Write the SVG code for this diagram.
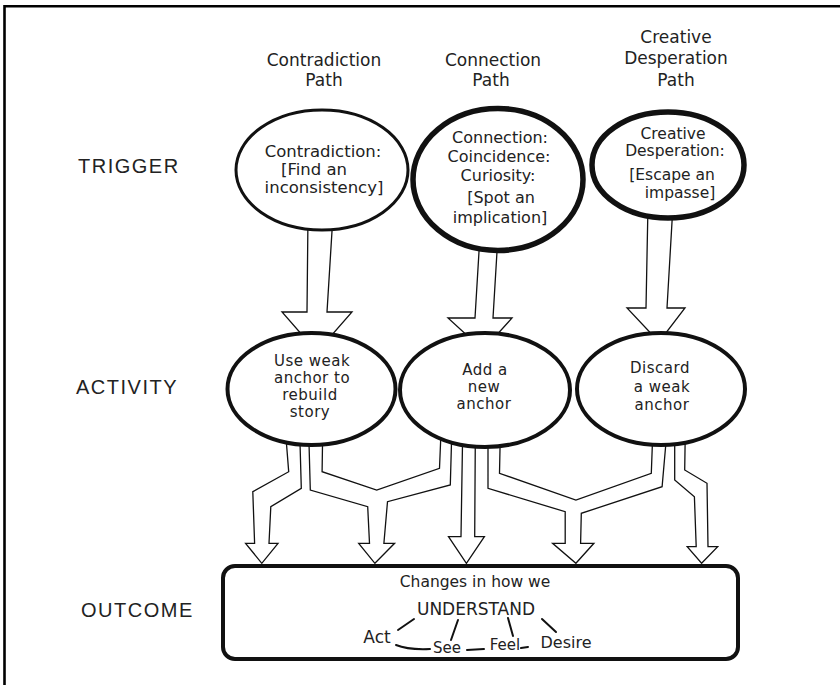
<svg xmlns="http://www.w3.org/2000/svg" width="840" height="685" viewBox="0 0 840 685">
<style>
.hand{font-family:"DejaVu Sans","Liberation Sans",sans-serif;fill:#222;text-anchor:middle}
.h17{font-size:17px}
.h16{font-size:16px}
.h15{font-size:15px}
.act{font-size:15px;letter-spacing:0.5px}
.lbl{font-family:"Liberation Sans",Arial,sans-serif;font-size:20px;fill:#222;letter-spacing:1.5px}
.arrow{fill:#fff;stroke:#111;stroke-width:1.3;stroke-linejoin:miter}
.node{fill:#fff;stroke:#111}
.thin{stroke-width:3}
.mid{stroke-width:4}
.thick{stroke-width:5.5}
.link{fill:none;stroke:#111;stroke-width:2;stroke-linecap:round}
</style>
<rect width="840" height="685" fill="#fff"/>
<g id="frame"><path d="M4.5,685 V6.2 H840" fill="none" stroke="#000" stroke-width="2.6"/></g>

<g id="row-labels">
<text class="lbl" x="78" y="173">TRIGGER</text>
<text class="lbl" x="76" y="394">ACTIVITY</text>
<text class="lbl" x="81" y="617">OUTCOME</text>
</g>

<g id="headers">
<text class="hand h17" x="324" y="66">Contradiction</text>
<text class="hand h17" x="324" y="86">Path</text>
<text class="hand h17" x="493" y="66">Connection</text>
<text class="hand h17" x="491" y="86">Path</text>
<text class="hand h17" x="676" y="43">Creative</text>
<text class="hand h17" x="676" y="64">Desperation</text>
<text class="hand h17" x="676" y="86">Path</text>
</g>

<g id="connectors">
<polygon class="arrow" points="308,215 307,312 282,312 317,352 352,312 327,312 333,215"/>
<polygon class="arrow" points="480,235 475,318 448,318 483,350 512,318 493,318 498,235"/>
<polygon class="arrow" points="648,205 646,308 627,308 659,342 685,308 667,308 673,205"/>
<polygon class="arrow" points="285,425 288.7,471.7 252.8,491.7 254.6,543.3 245.6,543.3 261.8,563.3 278,543.3 269,543.3 270.8,506.7 301.3,488.3 299.5,425"/>
<polygon class="arrow" points="308.5,425 310.3,490 367.7,506.7 369.5,543.3 358.7,543.3 374.9,563.3 394.6,543.3 383.9,543.3 387.5,501.7 450.3,485 452,425 441.3,425 439.5,468.3 376.7,490 322.1,471.7 322.8,425"/>
<polygon class="arrow" points="462.8,425 461,536.7 448.5,536.7 466.4,563.3 484.4,536.7 474.7,536.7 475.4,425"/>
<polygon class="arrow" points="488,425 488,488.3 565.2,511.7 565.2,543.3 552.6,543.3 575.9,563.3 593.9,543.3 580.6,543.3 581.3,513.3 662.1,486.7 667.5,425 653.1,425 651.3,473.3 575.9,500 499.5,473.3 500.5,425"/>
<polygon class="arrow" points="674.7,425 674.7,480 694.4,496.7 696.2,546.7 687.2,546.7 701.6,563.3 717.7,546.7 708,546.7 707,483.3 684.7,470 685.4,425"/>
</g>

<g id="trigger-contradiction">
<ellipse class="node thin" cx="322" cy="170" rx="86" ry="60"/>
<text class="hand" style="font-size:16.5px" x="323" y="157">Contradiction:</text>
<text class="hand" style="font-size:16.5px" x="314" y="175">[Find an</text>
<text class="hand" style="font-size:16.5px" x="324" y="193">inconsistency]</text>
</g>

<g id="trigger-connection">
<ellipse class="node thick" cx="498" cy="179.5" rx="85" ry="71"/>
<text class="hand h16" x="500" y="143">Connection:</text>
<text class="hand h16" x="499" y="162">Coincidence:</text>
<text class="hand h16" x="498" y="181">Curiosity:</text>
<text class="hand h16" x="501" y="203">[Spot an</text>
<text class="hand h16" x="500" y="223">implication]</text>
</g>

<g id="trigger-desperation">
<ellipse class="node thick" cx="668" cy="165" rx="76" ry="53"/>
<text class="hand" style="font-size:15.5px" x="673" y="139">Creative</text>
<text class="hand" style="font-size:15.5px" x="675" y="156">Desperation:</text>
<text class="hand" style="font-size:15.5px" x="672" y="180">[Escape an</text>
<text class="hand" style="font-size:15.5px" x="680" y="198">impasse]</text>
</g>

<g id="activity-rebuild">
<ellipse class="node mid" cx="311.5" cy="389" rx="84" ry="56"/>
<text class="hand act" x="312" y="366">Use weak</text>
<text class="hand act" x="312" y="383">anchor to</text>
<text class="hand act" x="310" y="400">rebuild</text>
<text class="hand act" x="310" y="417">story</text>
</g>

<g id="activity-add">
<ellipse class="node mid" cx="485" cy="390" rx="85" ry="57"/>
<text class="hand act" x="485" y="375">Add a</text>
<text class="hand act" x="484" y="392">new</text>
<text class="hand act" x="484" y="409">anchor</text>
</g>

<g id="activity-discard">
<ellipse class="node mid" cx="661" cy="389" rx="84" ry="56"/>
<text class="hand act" x="660" y="373">Discard</text>
<text class="hand act" x="662" y="392">a weak</text>
<text class="hand act" x="662" y="410">anchor</text>
</g>

<g id="outcome">
<rect class="node mid" x="223" y="566" width="515" height="93" rx="12" ry="12"/>
<text class="hand" style="font-size:15.5px" x="475" y="587">Changes in how we</text>
<text class="hand h17" x="476" y="615">UNDERSTAND</text>
<text class="hand h17" x="377" y="643">Act</text>
<text class="hand h15" x="447" y="653">See</text>
<text class="hand h15" x="505" y="650">Feel</text>
<text class="hand h16" x="566" y="648">Desire</text>
<line class="link" x1="398" y1="630" x2="414" y2="619"/>
<line class="link" x1="451" y1="640" x2="458" y2="620"/>
<line class="link" x1="513" y1="636" x2="508" y2="618"/>
<line class="link" x1="556" y1="632" x2="542" y2="619"/>
<path class="link" d="M396,645 Q408,650 430,649"/>
<line class="link" x1="467" y1="650" x2="484" y2="649"/>
<line class="link" x1="521" y1="648" x2="528" y2="647"/>
</g>
</svg>
